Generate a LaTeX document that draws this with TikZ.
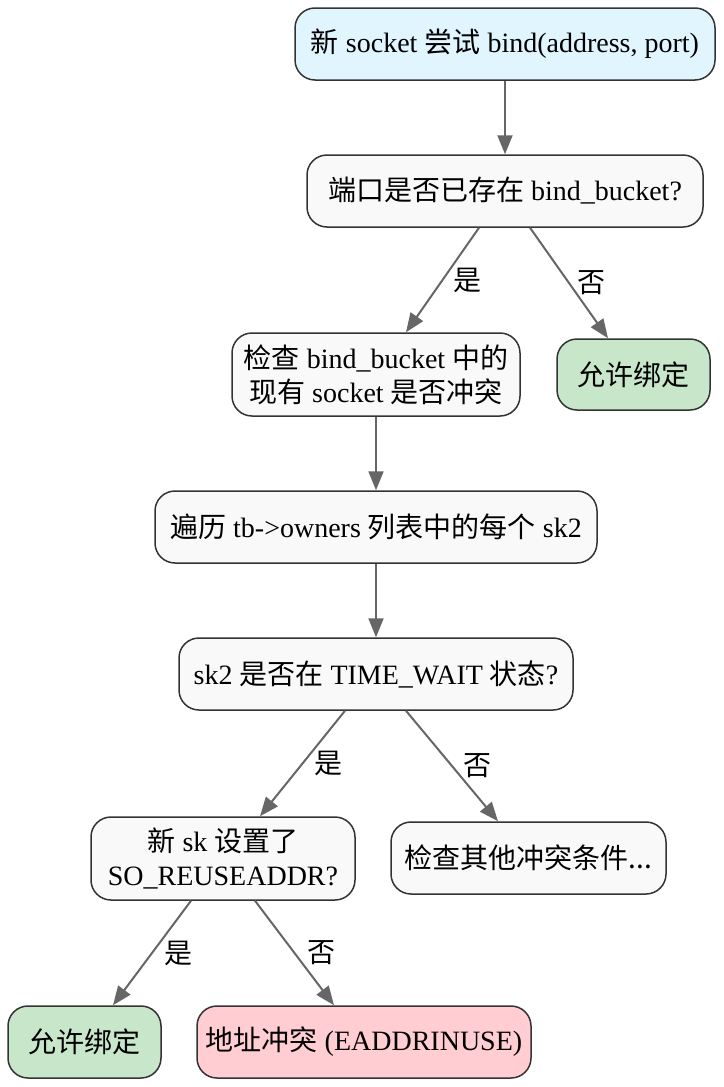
\documentclass[tikz,border=0pt]{standalone}
\usepackage{fontspec}
\setmainfont{Liberation Serif}
\newfontfamily\cjk{Noto Sans CJK SC}
\newcommand{\zh}[1]{{\cjk #1}}
\usetikzlibrary{arrows.meta, positioning}
\definecolor{startblue}{HTML}{E1F5FE}
\definecolor{boxgray}{HTML}{F9F9F9}
\definecolor{okgreen}{HTML}{C8E6C9}
\definecolor{errpink}{HTML}{FFCDD2}
\definecolor{edgegray}{HTML}{666666}
\definecolor{linedark}{HTML}{333333}

\begin{document}
\begin{tikzpicture}[
                x=1pt, y=-1pt,
                every node/.style={font=\fontsize{28}{34}\selectfont},
                box/.style={draw=linedark, line width=1.5pt, rounded corners=20pt, fill=boxgray, align=center, inner sep=0pt},
                startbox/.style={box, fill=startblue},
                okbox/.style={box, fill=okgreen},
                errbox/.style={box, fill=errpink},
                arrow/.style={draw=edgegray, line width=2pt, -{Triangle[length=19pt, width=15pt]}},
                lbl/.style={font=\cjk\fontsize{28}{34}\selectfont, inner sep=0pt}]
            \useasboundingbox (0,0) rectangle (723,1087);

            % Noeuds
            \node[startbox, minimum width=420pt, minimum height=72pt] (start) at (505,44) {\zh{新} socket \zh{尝试} bind(address, port)};
            \node[box, minimum width=396pt, minimum height=72pt] (port) at (505,191) {\zh{端口是否已存在} bind\_bucket?};
            \node[box, minimum width=288pt, minimum height=83pt] (check) at (376,374.5) {\zh{检查} bind\_bucket \zh{中的}\\\zh{现有} socket \zh{是否冲突}};
            \node[okbox, minimum width=153pt, minimum height=71pt] (ok1) at (633.5,374.5) {\zh{允许绑定}};
            \node[box, minimum width=442pt, minimum height=72pt] (loop) at (376,527) {\zh{遍历} tb->owners \zh{列表中的每个} sk2};
            \node[box, minimum width=394pt, minimum height=72pt] (tw) at (376,674) {sk2 \zh{是否在} TIME\_WAIT \zh{状态}?};
            \node[box, minimum width=264pt, minimum height=83pt] (reuse) at (223,858.5) {\zh{新} sk \zh{设置了}\\SO\_REUSEADDR?};
            \node[box, minimum width=275pt, minimum height=72pt] (other) at (528.5,858) {\zh{检查其他冲突条件...}};
            \node[okbox, minimum width=153pt, minimum height=72pt] (ok2) at (84.5,1042) {\zh{允许绑定}};
            \node[errbox, minimum width=334pt, minimum height=72pt] (conflict) at (364,1042) {\zh{地址冲突} (EADDRINUSE)};

            % Fleches
            \draw[arrow] (start) -- (port);
            \draw[arrow] ([xshift=-26pt]port.south) -- ([xshift=30pt]check.north) node[lbl, midway, xshift=25pt] {是};
            \draw[arrow] ([xshift=25pt]port.south) -- ([xshift=-25.5pt]ok1.north) node[lbl, midway, xshift=22pt] {否};
            \draw[arrow] (check) -- (loop);
            \draw[arrow] (loop) -- (tw);
            \draw[arrow] ([xshift=-31pt]tw.south) -- ([xshift=37pt]reuse.north) node[lbl, midway, xshift=26pt] {是};
            \draw[arrow] ([xshift=30pt]tw.south) -- ([xshift=-30.5pt]other.north) node[lbl, midway, xshift=25pt] {否};
            \draw[arrow] ([xshift=-32pt]reuse.south) -- ([xshift=28.5pt]ok2.north) node[lbl, midway, xshift=26pt] {是};
            \draw[arrow] ([xshift=32pt]reuse.south) -- ([xshift=-30pt]conflict.north) node[lbl, midway, xshift=27pt] {否};

        \end{tikzpicture}
\end{document}
